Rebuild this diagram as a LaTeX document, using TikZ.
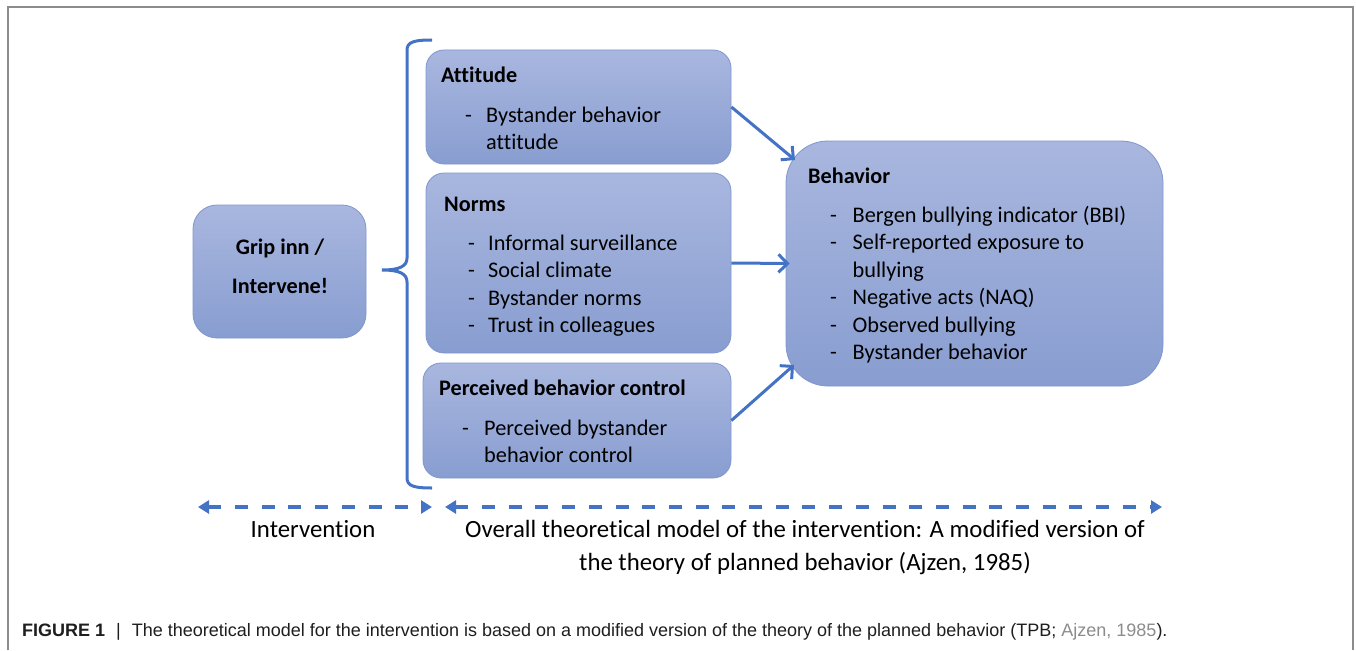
\documentclass[tikz,border=0pt]{standalone}
\usepackage{fontspec}
\setmainfont{Carlito}[Ligatures={NoCommon}]
\newfontfamily\capfont{Liberation Sans}
\usetikzlibrary{arrows.meta}
\definecolor{boxtop}{RGB}{169,183,223}
\definecolor{boxbot}{RGB}{136,157,208}
\definecolor{boxline}{RGB}{127,150,206}
\definecolor{arrowblue}{RGB}{68,114,196}
\definecolor{framegray}{RGB}{140,140,140}
\definecolor{captext}{RGB}{30,30,30}
\definecolor{citegray}{RGB}{140,140,140}
\tikzset{
  box/.style={rectangle, rounded corners=18pt, top color=boxtop, bottom color=boxbot, draw=boxline, line width=0.8pt, inner sep=0pt},
  ttl/.style={anchor=base west, inner sep=0pt, font=\bfseries\fontsize{22.2}{26}\selectfont},
  itm/.style={anchor=base west, inner sep=0pt, font=\fontsize{22.3}{26}\selectfont},
  bot/.style={anchor=base, inner sep=0pt, font=\fontsize{24.8}{29}\selectfont},
  conn/.style={-{Straight Barb[length=9pt,width=18pt,line width=3pt]}, line width=3pt, draw=arrowblue},
  dasharrow/.style={{Triangle[length=11pt,width=13pt]}-{Triangle[length=11pt,width=13pt]}, line width=3.5pt, draw=arrowblue, dash pattern=on 13pt off 13.7pt},
  bracestyle/.style={line width=3pt, draw=arrowblue},
}
\begin{document}
\begin{tikzpicture}[x=1pt,y=-1pt]
\useasboundingbox (0,0) rectangle (1356,650);
% frame
\draw[framegray, line width=1.3pt] (8,650) -- (8,7) -- (1353,7) -- (1353,650);

% boxes
\node[box, rounded corners=24pt, minimum width=173pt, minimum height=133pt] (grip) at (279.5,271.5) {};
\node[box, minimum width=305pt, minimum height=114pt] (att) at (578.5,107) {};
\node[box, minimum width=305pt, minimum height=180pt] (norms) at (578.5,263) {};
\node[box, minimum width=308pt, minimum height=115pt] (perc) at (577,420.5) {};
\node[box, rounded corners=42pt, minimum width=377pt, minimum height=245pt] (beh) at (974.5,263.5) {};

% grip text
\node[anchor=base, inner sep=0pt, font=\bfseries\fontsize{22.2}{26}\selectfont] (g1) at (280,254) {Grip inn /};
\node[anchor=base, inner sep=0pt, font=\bfseries\fontsize{22.2}{26}\selectfont] (g2) at (280,293) {Intervene!};

% attitude text
\node[ttl] (attT) at (441,83) {Attitude};
\node[itm] (attD1) at (465,122) {-};
\node[itm] (attI1) at (486,122) {Bystander behavior};
\node[itm] (attI2) at (486,149.5) {attitude};

% norms text
\node[ttl] (normT) at (444,211) {Norms};
\node[itm] (nD1) at (468,250) {-};
\node[itm] (nI1) at (488,250) {Informal surveillance};
\node[itm] (nD2) at (468,277.5) {-};
\node[itm] (nI2) at (488,277.5) {Social climate};
\node[itm] (nD3) at (468,305) {-};
\node[itm] (nI3) at (488,305) {Bystander norms};
\node[itm] (nD4) at (468,332.5) {-};
\node[itm] (nI4) at (488,332.5) {Trust in colleagues};

% perceived text
\node[ttl] (percT) at (439,395) {Perceived behavior control};
\node[itm] (pD1) at (462,435) {-};
\node[itm] (pI1) at (484,435) {Perceived bystander};
\node[itm] (pI2) at (484,462.5) {behavior control};

% behavior text
\node[ttl] (behT) at (808,183) {Behavior};
\node[itm] (bD1) at (830,222) {-};
\node[itm] (bI1) at (852.5,222) {Bergen bullying indicator (BBI)};
\node[itm] (bD2) at (830,249.5) {-};
\node[itm] (bI2) at (852.5,249.5) {Self-reported exposure to};
\node[itm] (bI2b) at (852.5,277) {bullying};
\node[itm] (bD3) at (830,304.5) {-};
\node[itm] (bI3) at (852.5,304.5) {Negative acts (NAQ)};
\node[itm] (bD4) at (830,332) {-};
\node[itm] (bI4) at (852.5,332) {Observed bullying};
\node[itm] (bD5) at (830,359.5) {-};
\node[itm] (bI5) at (852.5,359.5) {Bystander behavior};

% connectors
\coordinate (behA) at (795,160);
\coordinate (behC) at (794,365);
\draw[conn] (att.east) -- (behA);
\draw[conn] (norms.east) -- ([xshift=4pt]beh.west);
\draw[conn] (perc.east) -- (behC);

% brace
\coordinate (brcTop) at (432,40);
\coordinate (brcTip) at (382,270);
\coordinate (brcBot) at (432,488);
\draw[bracestyle] (brcTop) .. controls (414,40) and (407,42) .. (407,50) -- (407,258) .. controls (407,266) and (400,270) .. (brcTip) .. controls (400,270) and (407,274) .. (407,282) -- (407,478) .. controls (407,486) and (414,488) .. (brcBot);

% dashed arrows
\coordinate (dl1) at (198,507);
\coordinate (dr1) at (432,507);
\coordinate (dl2) at (445,507);
\coordinate (dr2) at (1162,507);
\draw[dasharrow] (dl1) -- (dr1);
\draw[dasharrow] (dl2) -- (dr2);

% bottom labels
\node[bot] (lblInt) at (313,537) {Intervention};
\node[bot] (lblTPB1) at (805,537) {Overall theoretical model of the intervention: A modified version of};
\node[bot] (lblTPB2) at (805,570) {the theory of planned behavior (Ajzen, 1985)};

% caption
\node[anchor=base west, inner sep=0pt, text=captext, font=\capfont\fontsize{18}{20}\selectfont] (cap) at (22,636) {{\bfseries FIGURE 1}\hspace{11pt}|\hspace{11pt}The theoretical model for the intervention is based on a modified version of the theory of the planned behavior (TPB; {\color{citegray}Ajzen, 1985}).};
\end{tikzpicture}
\end{document}
